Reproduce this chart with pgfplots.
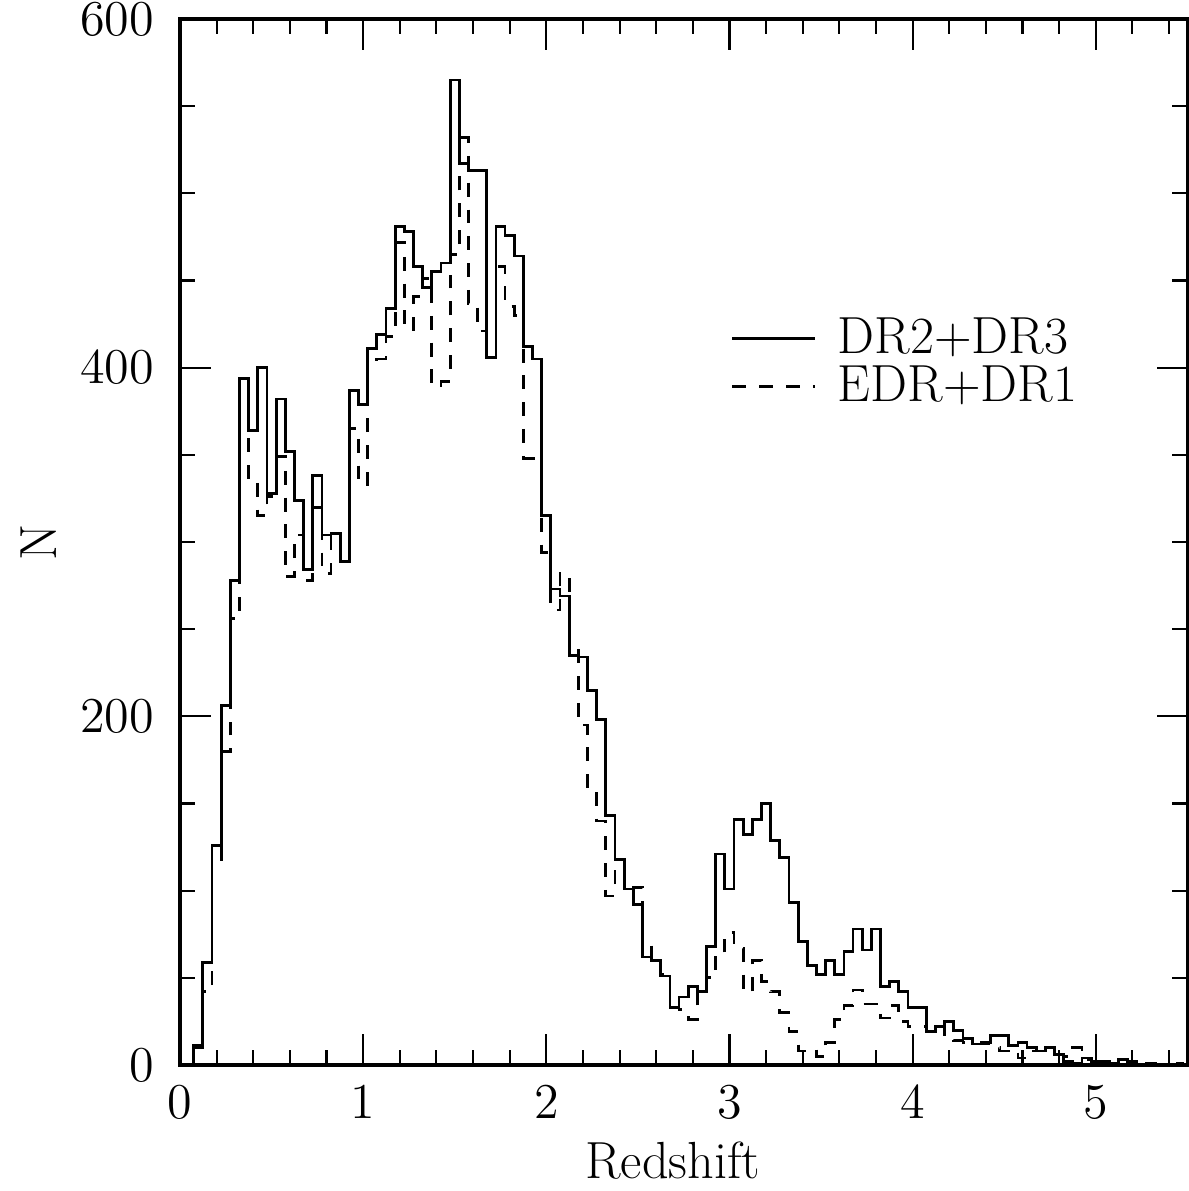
\documentclass[border=0pt]{standalone}
\usepackage{pgfplots}
\usepackage{pgfplotstable}
\pgfplotsset{compat=1.18}
\usetikzlibrary{calc}

\pgfplotstableread{
z n
0.05 0
0.10 11
0.15 59
0.20 126
0.25 206
0.30 278
0.35 394
0.40 364
0.45 400
0.50 328
0.55 382
0.60 352
0.65 324
0.70 284
0.75 338
0.80 304
0.85 305
0.90 289
0.95 387
1.00 379
1.05 411
1.10 419
1.15 434
1.20 481
1.25 478
1.30 458
1.35 446
1.40 455
1.45 460
1.50 565
1.55 517
1.60 513
1.65 513
1.70 406
1.75 481
1.80 476
1.85 464
1.90 412
1.95 405
2.00 315
2.05 273
2.10 269
2.15 235
2.20 234
2.25 215
2.30 198
2.35 143
2.40 118
2.45 101
2.50 92
2.55 62
2.60 60
2.65 51
2.70 33
2.75 39
2.80 45
2.85 42
2.90 68
2.95 121
3.00 101
3.05 141
3.10 132
3.15 141
3.20 150
3.25 129
3.30 119
3.35 93
3.40 71
3.45 57
3.50 52
3.55 60
3.60 52
3.65 65
3.70 78
3.75 66
3.80 78
3.85 45
3.90 48
3.95 42
4.00 33
4.05 33
4.10 19
4.15 22
4.20 25
4.25 20
4.30 15
4.35 12
4.40 13
4.45 17
4.50 17
4.55 11
4.60 13
4.65 10
4.70 8
4.75 10
4.80 6
4.85 2
4.90 1
4.95 4
5.00 2
5.05 2
5.10 0
5.15 3
5.20 2
5.25 0
5.30 1
5.35 0
5.40 0
5.45 0
5.50 0
}\solid

\pgfplotstableread{
z n
0.05 0
0.10 10
0.15 42
0.20 118
0.25 180
0.30 256
0.35 392
0.40 336
0.45 315
0.50 326
0.55 349
0.60 280
0.65 304
0.70 278
0.75 320
0.80 282
0.85 305
0.90 289
0.95 365
1.00 333
1.05 402
1.10 405
1.15 418
1.20 472
1.25 422
1.30 441
1.35 451
1.40 389
1.45 392
1.50 465
1.55 532
1.60 437
1.65 421
1.70 406
1.75 458
1.80 435
1.85 430
1.90 348
1.95 348
2.00 294
2.05 261
2.10 282
2.15 241
2.20 195
2.25 156
2.30 140
2.35 97
2.40 112
2.45 100
2.50 102
2.55 70
2.60 60
2.65 52
2.70 40
2.75 32
2.80 26
2.85 41
2.90 50
2.95 64
3.00 76
3.05 67
3.10 42
3.15 60
3.20 48
3.25 42
3.30 30
3.35 19
3.40 8
3.45 9
3.50 5
3.55 13
3.60 26
3.65 34
3.70 43
3.75 35
3.80 35
3.85 27
3.90 34
3.95 25
4.00 22
4.05 22
4.10 19
4.15 22
4.20 16
4.25 14
4.30 13
4.35 12
4.40 12
4.45 10
4.50 8
4.55 9
4.60 4
4.65 8
4.70 8
4.75 7
4.80 6
4.85 5
4.90 10
4.95 3
5.00 1
5.05 1
5.10 1
5.15 3
5.20 1
5.25 0
5.30 1
5.35 0
5.40 0
5.45 1
5.50 0
}\dashedtab

\begin{document}
\begin{tikzpicture}
\begin{axis}[
  name=ax,
  scale only axis,
  width=10.17cm, height=10.56cm,
  xmin=0, xmax=5.5, ymin=0, ymax=600,
  xtick={0,1,2,3,4,5},
  ytick={0,200,400,600},
  minor xtick={0.2,0.4,0.6,0.8,1.2,1.4,1.6,1.8,2.2,2.4,2.6,2.8,3.2,3.4,3.6,3.8,4.2,4.4,4.6,4.8,5.2,5.4},
  minor ytick={50,100,150,250,300,350,450,500,550},
  tick align=inside,
  major tick length=0.31cm,
  minor tick length=0.155cm,
  every tick/.style={black, line width=0.6pt},
  axis line style={line width=0.9pt},
  tick label style={font=\fontsize{15}{18}\selectfont},
  xticklabel style={yshift=-2.5pt},
  yticklabel style={xshift=-3.9pt},
  label style={font=\fontsize{15}{18}\selectfont},
  xlabel={Redshift},
  xlabel style={xshift=-0.11cm},
  ylabel={N},
  legend style={draw=none, fill=none, at={(rel axis cs:0.536,0.728)}, anchor=north west,
    font=\fontsize{15}{18}\selectfont, cells={anchor=west}, row sep=-2pt},
  legend image code/.code={\draw[#1] (0cm,0cm) -- (0.83cm,0cm); \path (0.98cm,0cm);},
]
\addplot[black, line width=0.8pt, const plot mark left] table[x expr=\thisrow{z}-0.025, y=n] {\solid};
\addlegendentry{DR2+DR3}
\addplot[black, line width=0.8pt, const plot mark left, dash pattern=on 4pt off 3.7pt] table[x expr=\thisrow{z}-0.025, y=n] {\dashedtab};
\addlegendentry{EDR+DR1}
\end{axis}
\pgfresetboundingbox
\path ($(ax.south west)+(-1.817cm,-1.272cm)$) rectangle ($(ax.north east)+(0.01cm,0.192cm)$);
\end{tikzpicture}
\end{document}
